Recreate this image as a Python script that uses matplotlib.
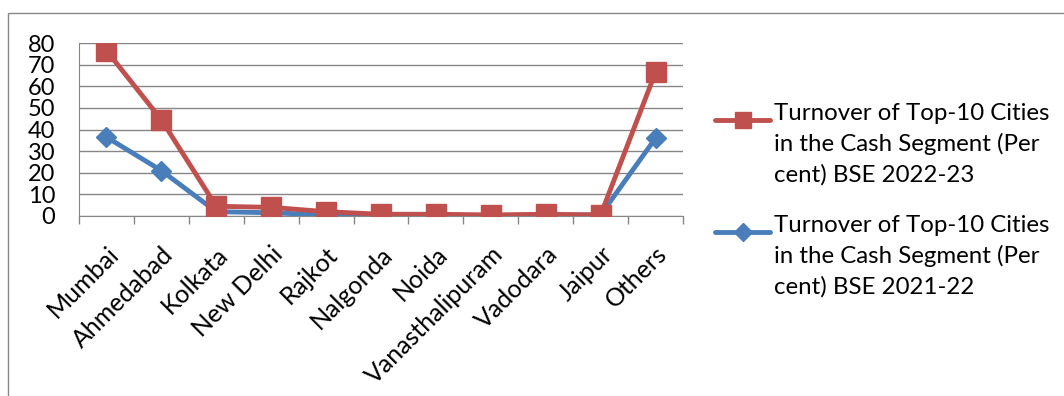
import matplotlib.pyplot as plt
from matplotlib.patches import Rectangle
from matplotlib.lines import Line2D
import numpy as np

cities = ["Mumbai", "Ahmedabad", "Kolkata", "New Delhi", "Rajkot", "Nalgonda",
          "Noida", "Vanasthalipuram", "Vadodara", "Jaipur", "Others"]
bse_2022_23 = [76.5, 44.5, 4.5, 4.0, 2.0, 0.8, 0.8, 0.5, 0.8, 0.5, 66.5]
bse_2021_22 = [36.5, 21.0, 2.0, 1.5, 0.5, 0.2, 0.3, 0.2, 0.3, 0.5, 36.0]

label_22_23 = "Turnover of Top-10 Cities\nin the Cash Segment (Per\ncent) BSE 2022-23"
label_21_22 = "Turnover of Top-10 Cities\nin the Cash Segment (Per\ncent) BSE 2021-22"

RED = "#c0504d"
BLUE = "#4a7ebb"
GRID = "#868686"
W, H = 1064, 396

plt.rcParams['font.family'] = ['Lato', 'DejaVu Sans']

fig = plt.figure(figsize=(W / 100, H / 100), dpi=100)
ax = fig.add_axes([79 / W, 1 - 216 / H, (683 - 79) / W, (216 - 43) / H])

x = np.arange(len(cities))
ax.plot(x, bse_2021_22, color=BLUE, lw=3.5, marker="D", ms=10,
        markeredgecolor=BLUE, zorder=3)
ax.plot(x, bse_2022_23, color=RED, lw=3.5, marker="s", ms=14.5,
        markeredgecolor=RED, zorder=4)

ax.set_xlim(-0.5, len(cities) - 0.5)
ax.set_ylim(0, 80)
ax.set_yticks(range(0, 81, 10))
ax.tick_params(axis="y", length=0, labelsize=17, pad=17)
ax.set_xticks(x)
ax.set_xticklabels(cities, rotation=45, ha="right", rotation_mode="anchor", fontsize=18)
ax.tick_params(axis="x", length=0, pad=19)
ax.set_xticks(np.arange(-0.5, len(cities)), minor=True)
ax.tick_params(axis="x", which="minor", length=6, color=GRID, width=1)
ax.grid(axis="y", color=GRID, lw=1)
ax.set_axisbelow(True)
for s in ["top", "right"]:
    ax.spines[s].set_visible(False)
for s in ["left", "bottom"]:
    ax.spines[s].set_color(GRID)

# legend drawn by hand so the keys sit beside the first line of each label
for y_key, y_text, color, marker, ms, label in [
        (120, 103, RED, "s", 12, label_22_23),
        (232, 215, BLUE, "D", 9, label_21_22)]:
    fig.add_artist(Line2D([715 / W, 770 / W], [1 - y_key / H] * 2, color=color,
                          lw=3.5, solid_capstyle="round"))
    fig.add_artist(Line2D([742.5 / W], [1 - y_key / H], color=color, marker=marker,
                          ms=ms, markeredgecolor=color))
    fig.text(774 / W, 1 - y_text / H, label, fontsize=17.3, va="top", ha="left",
             linespacing=1.5)

fig.patches.append(Rectangle((8 / W, -0.05), 1.1, 1.05 - 13 / H,
                             transform=fig.transFigure, fill=False,
                             edgecolor="#888888", lw=1))

fig.savefig("out.png", dpi=100)
